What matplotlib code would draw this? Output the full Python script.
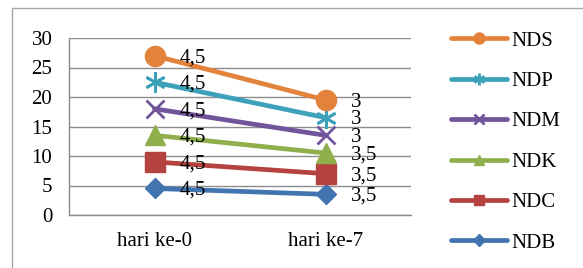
import matplotlib
matplotlib.use("Agg")
import matplotlib.pyplot as plt
from matplotlib.patches import Rectangle
import numpy as np

categories = ["hari ke-0", "hari ke-7"]
series_names = ["NDB", "NDC", "NDK", "NDM", "NDP", "NDS"]
NDB = [4.5, 3.5]
NDC = [4.5, 3.5]
NDK = [4.5, 3.5]
NDM = [4.5, 3.0]
NDP = [4.5, 3.0]
NDS = [4.5, 3.0]
series_values = [NDB, NDC, NDK, NDM, NDP, NDS]
y_ticks = [0, 5, 10, 15, 20, 25, 30]

colors = ["#4274B0", "#B4433F", "#8EAF4C", "#71549A", "#3DA1BA", "#E3823A"]
markers = ["D", "s", "^", "x", (6, 2, 0), "o"]
msizes = [10.5, 14, 14, 13, 15, 14.5]

plt.rcParams['font.family'] = ['Liberation Serif', 'DejaVu Serif']
FS = 15

fig = plt.figure(figsize=(5.83, 2.68), dpi=100)
fig.patch.set_facecolor("white")
fig.patches.append(Rectangle((12/583, -0.1), 1.0, 0.97 + 0.1, transform=fig.transFigure,
                             fill=False, edgecolor="#A6A6A6", linewidth=1.0))

ax = fig.add_axes([69/583, 1 - 215/268, (411-69)/583, (215-38)/268])
x = np.array([0.5, 1.5])
ax.set_xlim(0, 2)
ax.set_ylim(0, 30)
ax.set_yticks(y_ticks)
ax.set_xticks(x)
ax.set_xticklabels(categories, fontsize=FS)
ax.tick_params(axis='y', length=0, pad=12, labelsize=FS)
ax.tick_params(axis='x', length=0, pad=12)
ax.grid(axis='y', color="#8C8C8C", linewidth=1.0)
ax.set_axisbelow(True)
for s in ["top", "right"]:
    ax.spines[s].set_visible(False)
for s in ["left", "bottom"]:
    ax.spines[s].set_color("#8C8C8C")
    ax.spines[s].set_linewidth(1.0)

cum = np.zeros(2)
handles = []
for name, vals, c, m, ms in zip(series_names, series_values, colors, markers, msizes):
    cum = cum + np.array(vals)
    mew = 2.0 if m in ("x", (6, 2, 0)) else 1.0
    line, = ax.plot(x, cum, color=c, linewidth=3.4, marker=m, markersize=ms,
                    markeredgewidth=mew, markeredgecolor=c, markerfacecolor=c,
                    solid_capstyle="round", zorder=3, clip_on=False)
    handles.append(line)
    for xi, yi, v in zip(x, cum, vals):
        lbl = ("%g" % v).replace(".", ",")
        ax.annotate(lbl, (xi, yi), xytext=(18, -1.5), textcoords="offset points",
                    ha="left", va="center", fontsize=FS, zorder=4)

leg = fig.legend(handles[::-1], series_names[::-1], loc="upper left",
                 bbox_to_anchor=(451/583, 1 - 31/268), frameon=False, fontsize=FS,
                 handlelength=2.7, handletextpad=0.2, labelspacing=1.0,
                 borderpad=0, borderaxespad=0, markerscale=0.55)

fig.savefig("out.png", dpi=100, facecolor="white")
